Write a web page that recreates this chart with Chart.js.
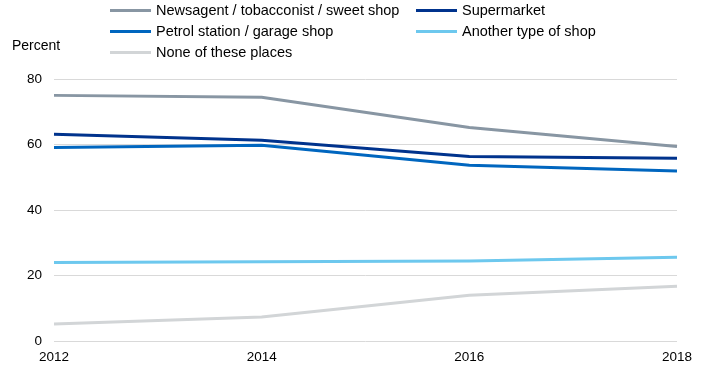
<!DOCTYPE html>
<html>
<head>
<meta charset="utf-8">
<script src="https://cdn.jsdelivr.net/npm/chart.js@4"></script>
<style>
  body { margin: 0; background: #fff; font-family: "Liberation Sans", Arial, sans-serif; }
  #wrap { position: relative; width: 709px; height: 384px; }
  #legend { position: absolute; left: 0; top: 0; width: 709px; height: 70px; }
  .item { position: absolute; font-size: 14.5px; color: #000; white-space: nowrap; }
  .item span.sw { position: absolute; left: -46px; top: 50%; width: 41px; height: 3px; margin-top: -1.5px; }
  #ytitle { position: absolute; left: 12px; top: 37px; font-size: 14px; color: #000; }
</style>
</head>
<body>
<div id="wrap">
  <canvas id="chart1" width="709" height="384"></canvas>
  <div id="legend"></div>
  <div id="ytitle">Percent</div>
</div>
<script>
var years = ["2012", "2014", "2016", "2018"];
var seriesNames = [
  "Newsagent / tobacconist / sweet shop",
  "Supermarket",
  "Petrol station / garage shop",
  "Another type of shop",
  "None of these places"
];
var newsagent = [75.0, 74.4, 65.2, 59.4];
var supermarket = [63.1, 61.3, 56.3, 55.8];
var petrol = [59.1, 59.8, 53.7, 51.9];
var anotherShop = [24.0, 24.2, 24.4, 25.6];
var noneOfThese = [5.2, 7.3, 14.0, 16.7];
var colors = ["#8896A3", "#00338D", "#0066BF", "#6DC8EE", "#D2D5D7"];

var allValues = [newsagent, supermarket, petrol, anotherShop, noneOfThese];

var datasets = allValues.map(function (vals, i) {
  return {
    label: seriesNames[i],
    data: vals,
    borderColor: colors[i],
    backgroundColor: colors[i],
    borderWidth: 3,
    pointRadius: 0,
    tension: 0,
    fill: false
  };
});
// draw first series on top like the reference
datasets.forEach(function (d, i) { d.order = i; });

// html legend, two columns
var legendPos = [[156, 2], [462, 2], [156, 23], [462, 23], [156, 44]];
var legend = document.getElementById("legend");
seriesNames.forEach(function (name, i) {
  var el = document.createElement("div");
  el.className = "item";
  el.style.left = legendPos[i][0] + "px";
  el.style.top = legendPos[i][1] + "px";
  el.innerHTML = '<span class="sw" style="background:' + colors[i] + '"></span>' + name;
  legend.appendChild(el);
});

var ctx = document.getElementById("chart1").getContext("2d");
var chart = new Chart(ctx, {
  type: "line",
  data: { labels: years, datasets: datasets },
  options: {
    responsive: false,
    animation: false,
    layout: { padding: { top: 79, right: 32, left: 0, bottom: 0 } },
    plugins: { legend: { display: false }, tooltip: { enabled: false } },
    scales: {
      x: {
        offset: false,
        grid: { display: false, drawTicks: false },
        border: { display: false },
        ticks: {
          color: "#000",
          padding: 8,
          maxRotation: 0,
          font: { family: "Liberation Sans", size: 13.5 }
        },
        afterFit: function (scale) { scale.height = 43; }
      },
      y: {
        min: 0,
        max: 80,
        grid: { color: "#D9D9D9", lineWidth: 1, drawTicks: false },
        border: { display: false },
        ticks: {
          stepSize: 20,
          color: "#000",
          padding: 12,
          font: { family: "Liberation Sans", size: 13.5 }
        },
        afterFit: function (scale) { scale.width = 54; }
      }
    }
  }
});
</script>
</body>
</html>
